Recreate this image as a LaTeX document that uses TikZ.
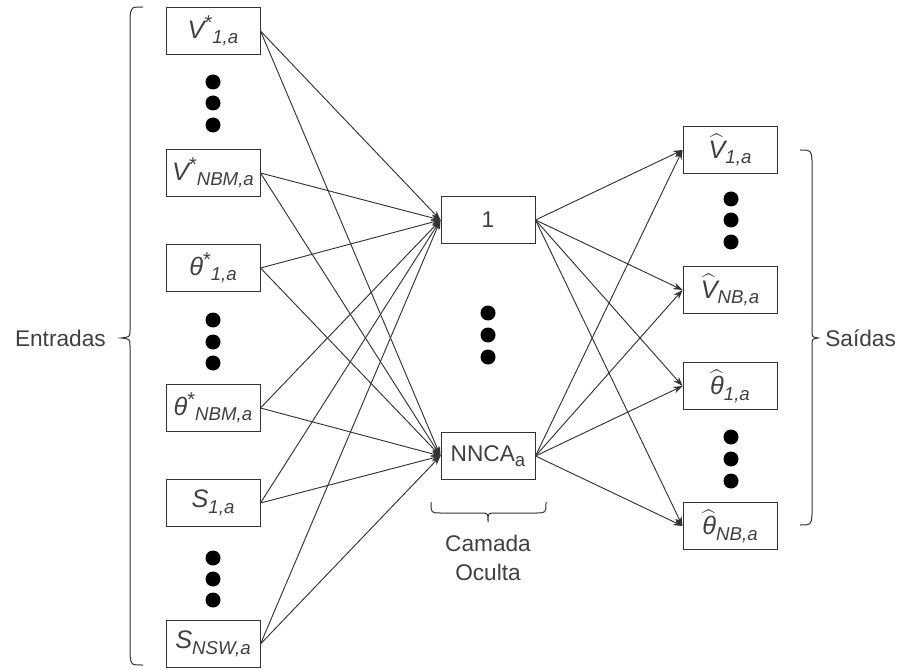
\documentclass[tikz,border=0pt]{standalone}
\usepackage{fontspec}
\usepackage{exscale}
\setmainfont{Liberation Sans}
\usetikzlibrary{arrows.meta}
\definecolor{txt}{HTML}{404040}
\definecolor{ln}{HTML}{333333}
\newcommand{\mainsym}[1]{{\fontsize{19}{20}\selectfont\itshape #1}}
\newcommand{\supstar}{\raisebox{0.75ex}{\fontsize{15}{15}\selectfont *}}
\newcommand{\subsc}[1]{\raisebox{-0.45ex}{\fontsize{14}{14}\selectfont\itshape #1}}
\newcommand{\hatof}[1]{{\fontsize{19}{20}\selectfont$\widehat{\mbox{\itshape #1}}$}}
\begin{document}
\begin{tikzpicture}[x=0.75pt,y=-0.75pt,
  box/.style={draw=ln, line width=0.75pt, minimum width=94*0.75pt, minimum height=47*0.75pt, inner sep=0pt, text=txt, font=\fontsize{17}{20}\selectfont},
  dot/.style={circle, fill=black, inner sep=0pt, minimum size=15*0.75pt},
  conn/.style={draw=ln, line width=0.7pt, -{Stealth[length=7pt,width=5pt]}},
  lbl/.style={text=txt, font=\fontsize{17}{21.5}\selectfont, inner sep=0pt},
  brc/.style={draw=ln, line width=0.75pt}]
\useasboundingbox (0,0) rectangle (909,670);
% inputs
\node[box] (in1) at (213,31) {\mainsym{V}\supstar\subsc{1,a}};
\node[box] (in2) at (213,173) {\mainsym{V}\supstar\subsc{NBM,a}};
\node[box] (in3) at (213,268) {\mainsym{θ}\supstar\subsc{1,a}};
\node[box] (in4) at (213,408) {\mainsym{θ}\supstar\subsc{NBM,a}};
\node[box] (in5) at (213,503) {\mainsym{S}\subsc{1,a}};
\node[box] (in6) at (213,644) {\mainsym{S}\subsc{NSW,a}};
% hidden
\node[box] (h1) at (488,220) {1};
\node[box] (h2) at (488,456) {NNCA\raisebox{-0.45ex}{\fontsize{14}{14}\selectfont a}};
% outputs
\node[box] (o1) at (730,150) {\hatof{V}\subsc{1,a}};
\node[box] (o2) at (730,290) {\hatof{V}\subsc{NB,a}};
\node[box] (o3) at (730,386) {\hatof{θ}\subsc{1,a}};
\node[box] (o4) at (730,526) {\hatof{θ}\subsc{NB,a}};
% dots
\foreach \y [count=\i] in {82,103,125} \node[dot] (da\i) at (213,\y) {};
\foreach \y [count=\i] in {320,342,363} \node[dot] (db\i) at (213,\y) {};
\foreach \y [count=\i] in {558,579,600} \node[dot] (dc\i) at (213,\y) {};
\foreach \y [count=\i] in {313,335,357} \node[dot] (dh\i) at (488,\y) {};
\foreach \y [count=\i] in {199,220,242} \node[dot] (dd\i) at (731,\y) {};
\foreach \y [count=\i] in {437,459,481} \node[dot] (de\i) at (731,\y) {};
% connectors
\foreach \a in {in1,in2,in3,in4,in5,in6}
  \foreach \b in {h1,h2}
    \draw[conn] (\a.east) -- (\b.west);
\foreach \a in {h1,h2}
  \foreach \b in {o1,o2,o3,o4}
    \draw[conn] (\a.east) -- (\b.west);
% braces
\draw[brc] (143,7) .. controls (131,7) .. (130,18) -- (130,330) .. controls (130,337) .. (121,338) .. controls (130,339) .. (130,346) -- (130,655) .. controls (131,665) .. (143,665);
\draw[brc] (800,150) .. controls (811,150) .. (812,160) -- (812,330) .. controls (812,337) .. (818,338) .. controls (812,339) .. (812,346) -- (812,515) .. controls (811,525) .. (800,525);
\draw[brc] (431,502) .. controls (431,513) .. (441,513) -- (481,513) .. controls (488,513) .. (488,522) .. controls (488,513) .. (495,513) -- (536,513) .. controls (546,513) .. (546,502);
% labels
\node[lbl, anchor=east] (ent) at (106,338) {Entradas};
\node[lbl, anchor=west] (sai) at (825,338) {Saídas};
\node[lbl, align=center] (cam) at (488,558) {Camada\\Oculta};
\end{tikzpicture}
\end{document}
